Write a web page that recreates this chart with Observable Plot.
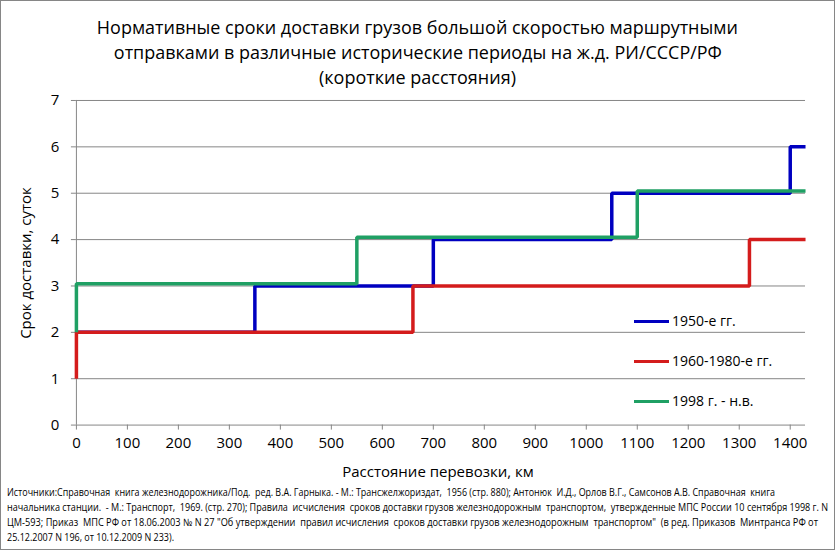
<!DOCTYPE html>
<html><head><meta charset="utf-8">
<script src="https://cdn.jsdelivr.net/npm/d3@7"></script>
<script src="https://cdn.jsdelivr.net/npm/@observablehq/plot@0.6"></script>
<style>
html,body{margin:0;padding:0;background:#fff;}
#wrap{position:relative;width:835px;height:550px;box-sizing:border-box;border:1px solid #868686;overflow:hidden;font-family:"Open Sans",sans-serif;color:#000;}
.abs{position:absolute;white-space:pre;}
.fit{display:inline-block;white-space:pre;}
#title div{position:absolute;left:0;width:833px;text-align:center;font-size:18px;line-height:25px;}
#chart{position:absolute;left:-1px;top:84px;}
.cap{position:absolute;left:6px;font-size:10px;line-height:15px;white-space:pre;transform-origin:0 50%;}
.leg{position:absolute;font-size:14px;line-height:18px;}
.legline{position:absolute;height:3px;width:35px;}
</style></head>
<body>
<div id="wrap">
  <div id="title"></div>
  <div id="chart"></div>
  <div id="ylab" class="abs" style="font-size:15px;"></div>
  <div id="xlab" class="abs" style="font-size:15px;"></div>
  <div id="legend"></div>
  <div id="caption"></div>
</div>
<script>
// ---- data ----
const titleLines = [
  "Нормативные сроки доставки грузов большой скоростью маршрутными",
  "отправками в различные исторические периоды на ж.д. РИ/СССР/РФ",
  "(короткие расстояния)"
];
const yLabel = "Срок доставки, суток";
const xLabel = "Расстояние перевозки, км";
const xTicks = [0,100,200,300,400,500,600,700,800,900,1000,1100,1200,1300,1400];
const yTicks = [0,1,2,3,4,5,6,7];
const seriesNames = ["1950-е гг.", "1960-1980-е гг.", "1998 г. - н.в."];
const seriesColors = ["#0000c0", "#d41c1c", "#1fa064"];
const dist1950 = [0, 350, 700, 1050, 1400, 1430];
const days1950 = [2, 3, 4, 5, 6, 6];
const dist1960 = [0, 0, 660, 1320, 1430];
const days1960 = [1, 2, 3, 4, 4];
const dist1998 = [0, 0, 550, 1100, 1430];
const days1998 = [2, 3.05, 4.05, 5.05, 5.05];
const captionLines = [
  "Источники:Справочная  книга железнодорожника/Под.  ред. В.А. Гарныка. - М.: Трансжелжориздат,  1956 (стр. 880); Антонюк  И.Д., Орлов В.Г., Самсонов А.В. Справочная  книга",
  "начальника станции.  - М.: Транспорт,  1969. (стр. 270); Правила  исчисления  сроков доставки грузов железнодорожным  транспортом,  утвержденные МПС России 10 сентября 1998 г. N",
  "ЦМ-593; Приказ  МПС РФ от 18.06.2003 № N 27 \"Об утверждении  правил исчисления  сроков доставки грузов железнодорожным  транспортом\"  (в ред. Приказов  Минтранса РФ от",
  "25.12.2007 N 196, от 10.12.2009 N 233)."
];

const series = [
  {name: seriesNames[0], color: seriesColors[0], x: dist1950, y: days1950},
  {name: seriesNames[1], color: seriesColors[1], x: dist1960, y: days1960},
  {name: seriesNames[2], color: seriesColors[2], x: dist1998, y: days1998}
];

// ---- chart ----
const grid = "#868686";
const chart = Plot.plot({
  width: 835, height: 400,
  marginTop: 15, marginBottom: 60, marginLeft: 76, marginRight: 29,
  x: {domain: [0, 1430]},
  y: {domain: [0, 7]},
  style: {fontFamily: "'Open Sans', sans-serif", fontSize: "14px", color: "#000", background: "transparent", overflow: "visible"},
  marks: [
    Plot.gridY(yTicks.filter(t => t > 0), {stroke: grid, strokeOpacity: 1, strokeWidth: 1}),
    Plot.ruleY([0], {stroke: grid}),
    Plot.ruleX([0], {stroke: grid}),
    Plot.axisY({ticks: yTicks, tickFormat: d => String(d), tickSize: 5, tickPadding: 12, label: null, stroke: grid, fontSize: 15}),
    Plot.axisX({ticks: xTicks, tickFormat: d => String(d), tickSize: 5, tickPadding: 7, label: null, stroke: grid, fontSize: 15}),
    ...series.map(s => Plot.line(s.x.map((x, i) => ({x, y: s.y[i]})),
      {x: "x", y: "y", curve: "step-after", stroke: s.color, strokeWidth: 3.5, strokeLinejoin: "miter", strokeLinecap: "butt"}))
  ]
});
document.getElementById("chart").appendChild(chart);

// ---- texts ----
function fitWidth(el, w, origin) {
  const r = el.getBoundingClientRect().width;
  if (r > 0) { el.style.transform = `scaleX(${w / r})`; el.style.transformOrigin = origin || "0 50%"; }
}
const titleEl = document.getElementById("title");
const titleWidths = [641, 608, 197];
titleLines.forEach((t, i) => {
  const d = document.createElement("div");
  d.style.top = (14 + i * 25) + "px";
  const s = document.createElement("span");
  s.className = "fit"; s.textContent = t;
  d.appendChild(s); titleEl.appendChild(d);
  fitWidth(s, titleWidths[i], "50% 50%");
});

const ylab = document.getElementById("ylab");
ylab.textContent = yLabel;
ylab.style.left = "24px"; ylab.style.top = "262px";
ylab.style.transform = "translate(-50%,-50%) rotate(-90deg)";

const xlab = document.getElementById("xlab");
xlab.textContent = xLabel;
xlab.style.left = "437px"; xlab.style.top = "470px";
xlab.style.transform = "translate(-50%,-50%)";

const legend = document.getElementById("legend");
series.forEach((s, i) => {
  const cy = 321 + i * 40;
  const l = document.createElement("div");
  l.className = "legline"; l.style.background = s.color;
  l.style.left = "633px"; l.style.top = (cy - 2) + "px";
  legend.appendChild(l);
  const t = document.createElement("div");
  t.className = "leg"; t.textContent = s.name;
  t.style.left = "671px"; t.style.top = (cy - 10) + "px";
  legend.appendChild(t);
});

const cap = document.getElementById("caption");
const capWidths = [768, 821, 811, 167];
captionLines.forEach((t, i) => {
  const d = document.createElement("div");
  d.className = "cap"; d.textContent = t;
  d.style.top = (484 + i * 15) + "px";
  cap.appendChild(d);
  fitWidth(d, capWidths[i]);
});
</script>
</body></html>
